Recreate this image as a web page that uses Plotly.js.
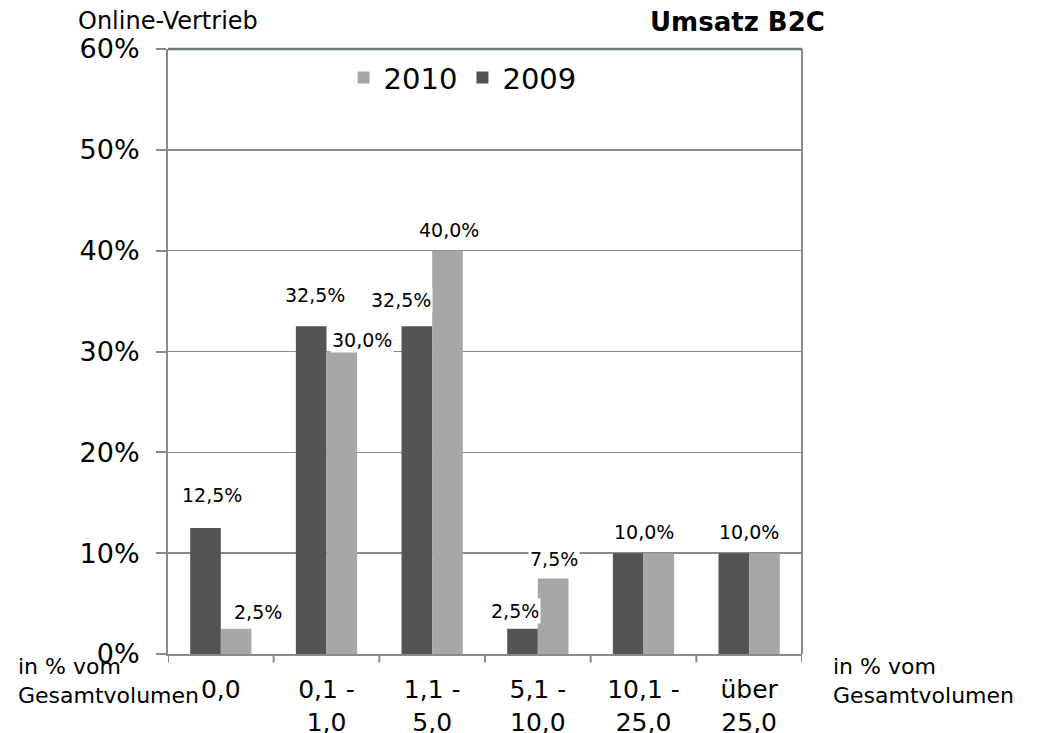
<!DOCTYPE html>
<html>
<head>
<meta charset="utf-8">
<script src="https://cdn.plot.ly/plotly-3.0.1.min.js"></script>
<style>html,body{margin:0;padding:0;background:#fff;}#chart{width:1039px;height:733px;}</style>
</head>
<body>
<div id="chart"></div>
<script>
// ---- data ----
const categories = ["0,0", "0,1 - 1,0", "1,1 - 5,0", "5,1 - 10,0", "10,1 - 25,0", "über 25,0"];
const tickLabels = ["0,0", "0,1 -<br>1,0", "1,1 -<br>5,0", "5,1 -<br>10,0", "10,1 -<br>25,0", "über<br>25,0"];
const values2009 = [12.5, 32.5, 32.5, 2.5, 10.0, 10.0];
const values2010 = [2.5, 30.0, 40.0, 7.5, 10.0, 10.0];
const yTickVals = [0, 10, 20, 30, 40, 50, 60];
const yTickText = ["0%", "10%", "20%", "30%", "40%", "50%", "60%"];

// ---- style ----
const FONT = "DejaVu Sans, Verdana, sans-serif";
const dark = "#545454";
const light = "#a7a7a7";
const bargap = 0.42;
// label nudges (px) [xshift, yshift] per category
const nudge2009 = [[6, 33], [4, 31], [-16, 26], [-8, 18], [0, 21], [0, 21]];
const nudge2010 = [[22, 17], [20, 12], [2, 21], [1, 19], [0, 21], [0, 21]];

function fmt(v) { return v.toFixed(1).replace(".", ",") + "%"; }

const idx = categories.map((c, i) => i);
const traces = [
  { type: "bar", name: "2009", x: idx, y: values2009, marker: { color: dark }, hoverinfo: "none" },
  { type: "bar", name: "2010", x: idx, y: values2010, marker: { color: light }, hoverinfo: "none" }
];

const half = (1 - bargap) / 4;
const annotations = [];
categories.forEach((c, i) => {
  const base = { xref: "x", yref: "y", showarrow: false, yanchor: "middle",
    font: { family: FONT, size: 19, color: "#000" }, bgcolor: "#fff" };
  if (values2009[i] === values2010[i]) {
    annotations.push(Object.assign({}, base, { x: i, y: values2009[i], text: fmt(values2009[i]),
      xshift: nudge2009[i][0], yshift: nudge2009[i][1] }));
  } else {
    annotations.push(Object.assign({}, base, { x: i - half, y: values2009[i], text: fmt(values2009[i]),
      xshift: nudge2009[i][0], yshift: nudge2009[i][1] }));
    annotations.push(Object.assign({}, base, { x: i + half, y: values2010[i], text: fmt(values2010[i]),
      xshift: nudge2010[i][0], yshift: nudge2010[i][1] }));
  }
});

// titles / side texts
annotations.push({ xref: "paper", yref: "paper", x: -0.145, y: 1.0, xanchor: "left", yanchor: "bottom", yshift: 12,
  text: "Online-Vertrieb", showarrow: false, font: { family: FONT, size: 24, color: "#000" } });
annotations.push({ xref: "paper", yref: "paper", x: 1.04, y: 1.0, xanchor: "right", yanchor: "bottom", yshift: 10,
  text: "<b>Umsatz B2C</b>", showarrow: false, font: { family: FONT, size: 26, color: "#000" } });
annotations.push({ xref: "paper", yref: "paper", x: -0.24, y: 0, xanchor: "left", yanchor: "top", yshift: 2,
  text: "in % vom<br>Gesamtvolumen", align: "left", showarrow: false, font: { family: FONT, size: 22, color: "#000" } });
annotations.push({ xref: "paper", yref: "paper", x: 1.046, y: 0, xanchor: "left", yanchor: "top", yshift: 2,
  text: "in % vom<br>Gesamtvolumen", align: "left", showarrow: false, font: { family: FONT, size: 22, color: "#000" } });

const layout = {
  width: 1039, height: 733,
  margin: { l: 168, r: 237, t: 49, b: 79 },
  paper_bgcolor: "#fff", plot_bgcolor: "#fff",
  font: { family: FONT, color: "#000" },
  barmode: "group", bargap: bargap, bargroupgap: 0,
  showlegend: true,
  legend: { orientation: "h", traceorder: "reversed", x: 0.277, xanchor: "left", y: 0.995, yanchor: "top",
    font: { family: FONT, size: 29, color: "#000" }, bgcolor: "rgba(0,0,0,0)", itemclick: false },
  xaxis: {
    type: "linear", range: [-0.5, categories.length - 0.5],
    tickmode: "array", tickvals: idx, ticktext: tickLabels,
    ticks: "", showgrid: false, zeroline: false,
    showline: true, linecolor: "#8a8a8a", linewidth: 2, mirror: false,
    tickfont: { family: FONT, size: 25, color: "#000" }, ticklabelstandoff: 12, fixedrange: true
  },
  yaxis: {
    range: [0, 60], tickmode: "array", tickvals: yTickVals, ticktext: yTickText,
    ticks: "outside", ticklen: 10, tickcolor: "#8a8a8a", tickwidth: 2,
    showgrid: true, gridcolor: "#8a8a8a", gridwidth: 1.5, zeroline: false,
    showline: true, linecolor: "#8a8a8a", linewidth: 2,
    tickfont: { family: FONT, size: 27, color: "#000" }, ticklabelstandoff: 11, fixedrange: true
  },
  annotations: annotations,
  shapes: [
    ...Array.from({ length: categories.length + 1 }, (_, k) => ({
      type: "line", xref: "x", yref: "paper", x0: k - 0.5, x1: k - 0.5, y0: 0, y1: -0.014,
      line: { color: "#8a8a8a", width: 2 } })),
    { type: "line", xref: "paper", yref: "paper", x0: 1, x1: 1, y0: 0, y1: 1, line: { color: "#8a8a8a", width: 2 } },
    { type: "line", xref: "paper", yref: "paper", x0: 0, x1: 1, y0: 1, y1: 1, line: { color: "#6c7874", width: 2.5 } }
  ]
};

Plotly.newPlot("chart", traces, layout, { displayModeBar: false, staticPlot: true });
</script>
</body>
</html>
